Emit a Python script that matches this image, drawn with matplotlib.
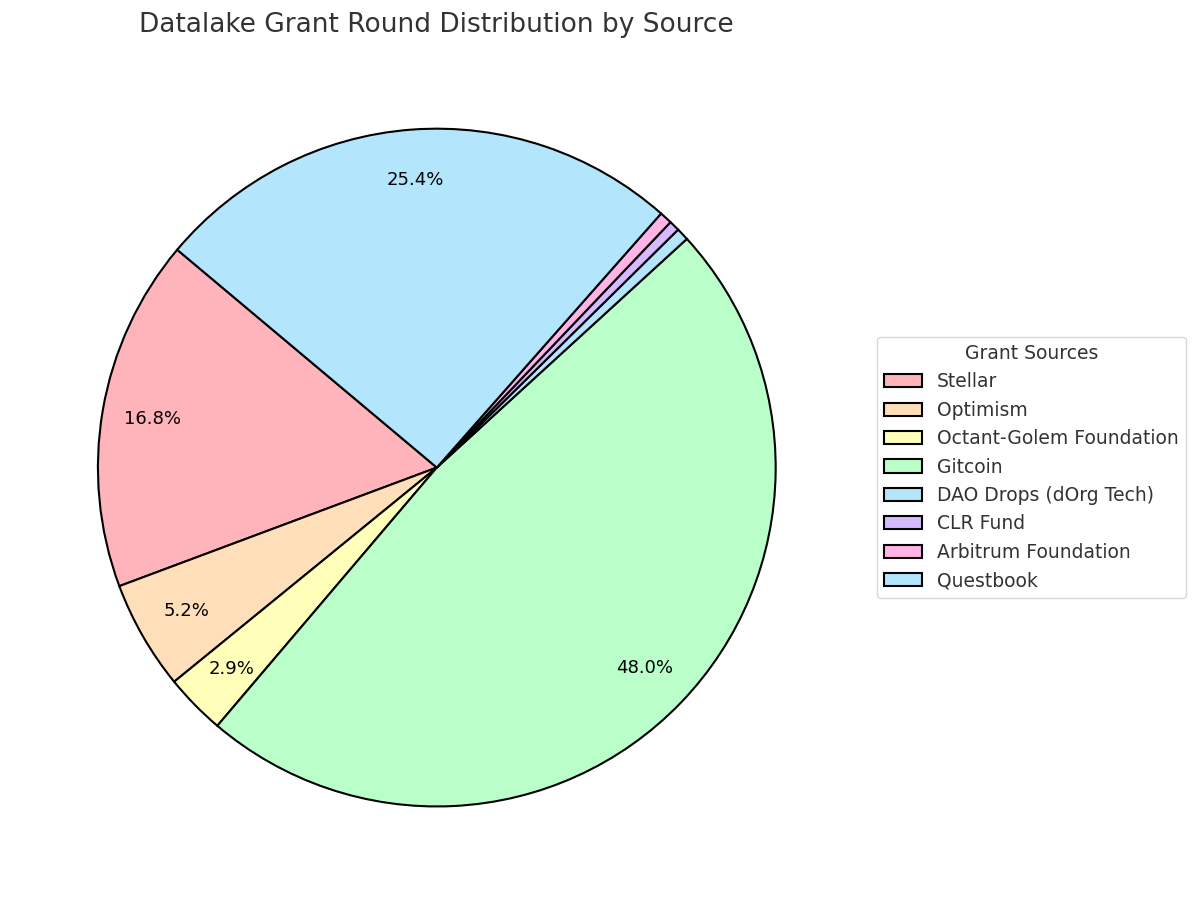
import matplotlib
matplotlib.use("Agg")
import matplotlib.pyplot as plt

sources = ["Stellar", "Optimism", "Octant-Golem Foundation", "Gitcoin",
           "DAO Drops (dOrg Tech)", "CLR Fund", "Arbitrum Foundation", "Questbook"]
shares = [16.8, 5.2, 2.9, 48.0, 0.6, 0.5, 0.6, 25.4]
colors = ["#ffb3ba", "#ffdfba", "#ffffba", "#baffc9",
          "#b3e5fc", "#d5baff", "#ffb3e6", "#b3e5fc"]

fig = plt.figure(figsize=(12, 9.07), dpi=100)
ax = fig.add_axes([0.011, 0.017, 0.706, 0.935])
wedges, texts, autotexts = ax.pie(
    shares, colors=colors, startangle=140, pctdistance=0.85,
    autopct=lambda p: f"{p:.1f}%" if p > 2 else "",
    wedgeprops={"edgecolor": "black", "linewidth": 1.5},
    textprops={"fontsize": 13})
ax.set_aspect("equal")
fig.text(0.364, 0.972, "Datalake Grant Round Distribution by Source",
         ha="center", va="center", fontsize=19, color="#333333")
leg = ax.legend(wedges, sources, title="Grant Sources", loc="center left",
                bbox_to_anchor=(0.723, 0.485), bbox_transform=fig.transFigure,
                fontsize=13.5, title_fontsize=13.5)
for t in leg.get_texts():
    t.set_color("#333333")
leg.get_title().set_color("#333333")
fig.savefig("out.png", dpi=100)
